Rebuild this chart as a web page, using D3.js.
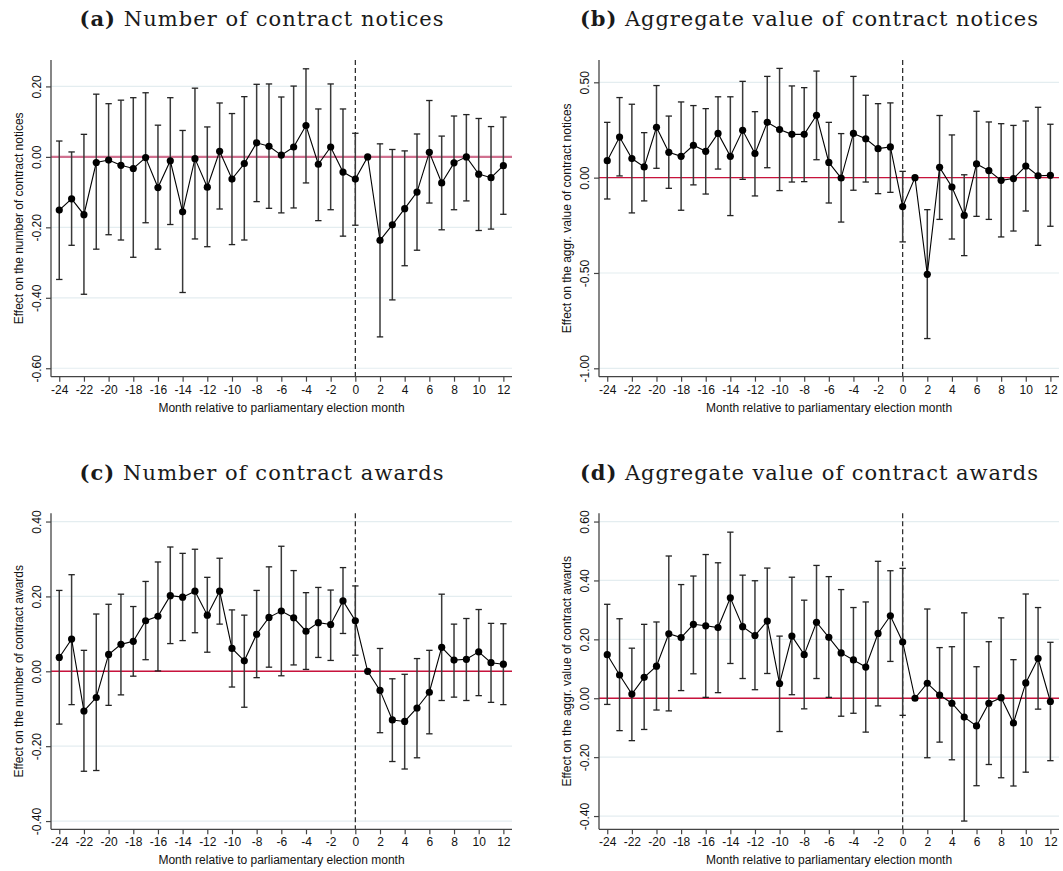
<!DOCTYPE html>
<html>
<head>
<meta charset="utf-8">
<script src="https://cdn.jsdelivr.net/npm/d3@7"></script>
<style>
  body { margin: 0; background: #fff; }
  svg { display: block; }
</style>
</head>
<body>
<script>
const width = 1063;
const height = 871;

// months relative to the election, every panel uses the same ones
const months = [-24, -23, -22, -21, -20, -19, -18, -17, -16, -15, -14, -13, -12, -11, -10, -9, -8, -7, -6, -5,
  -4, -3, -2, -1, 0, 1, 2, 3, 4, 5, 6, 7, 8, 9, 10, 11, 12];
const monthTicks = [-24, -22, -20, -18, -16, -14, -12, -10, -8, -6, -4, -2, 0, 2, 4, 6, 8, 10, 12];

// (a) number of contract notices
const noticesNum = [-0.151, -0.119, -0.164, -0.016, -0.009, -0.024, -0.033, -0.002, -0.087, -0.011, -0.156, -0.005, -0.086, 0.016, -0.063, -0.019, 0.040, 0.030, 0.005, 0.028,
  0.089, -0.021, 0.028, -0.043, -0.063, 0, -0.237, -0.193, -0.147, -0.100, 0.013, -0.074, -0.017, 0.000, -0.049, -0.059, -0.025];
const noticesNumHi = [0.045, 0.014, 0.064, 0.178, 0.151, 0.161, 0.168, 0.182, 0.090, 0.168, 0.075, 0.195, 0.085, 0.153, 0.123, 0.171, 0.206, 0.207, 0.170, 0.201,
  0.250, 0.136, 0.207, 0.136, 0.067, null, 0.037, 0.021, 0.017, 0.065, 0.160, 0.059, 0.116, 0.120, 0.109, 0.086, 0.113];
const noticesNumLo = [-0.348, -0.251, -0.390, -0.262, -0.221, -0.236, -0.285, -0.187, -0.262, -0.192, -0.385, -0.233, -0.255, -0.148, -0.249, -0.236, -0.127, -0.146, -0.159, -0.145,
  -0.074, -0.181, -0.150, -0.225, -0.194, null, -0.511, -0.406, -0.309, -0.265, -0.131, -0.207, -0.150, -0.125, -0.209, -0.205, -0.163];

// (b) aggregate value of contract notices
const noticesVal = [0.089, 0.213, 0.100, 0.056, 0.264, 0.133, 0.112, 0.170, 0.138, 0.232, 0.112, 0.248, 0.126, 0.290, 0.252, 0.227, 0.227, 0.327, 0.080, -0.002,
  0.232, 0.204, 0.152, 0.161, -0.152, 0, -0.507, 0.054, -0.049, -0.198, 0.072, 0.037, -0.014, -0.005, 0.061, 0.010, 0.012];
const noticesValHi = [0.290, 0.420, 0.385, 0.236, 0.483, 0.323, 0.397, 0.378, 0.362, 0.424, 0.424, 0.505, 0.346, 0.531, 0.573, 0.481, 0.472, 0.559, 0.290, 0.231,
  0.531, 0.432, 0.388, 0.392, 0.033, null, -0.168, 0.326, 0.224, 0.015, 0.348, 0.292, 0.283, 0.274, 0.297, 0.369, 0.280];
const noticesValLo = [-0.112, 0.009, -0.185, -0.122, 0.049, -0.056, -0.171, -0.038, -0.086, 0.045, -0.199, -0.009, -0.096, 0.052, -0.068, -0.023, -0.021, 0.094, -0.133, -0.233,
  -0.066, -0.023, -0.084, -0.077, -0.337, null, -0.844, -0.219, -0.322, -0.409, -0.203, -0.219, -0.311, -0.280, -0.175, -0.355, -0.255];

// (c) number of contract awards
const awardsNum = [0.037, 0.086, -0.106, -0.070, 0.045, 0.072, 0.080, 0.135, 0.147, 0.202, 0.198, 0.214, 0.150, 0.214, 0.061, 0.028, 0.099, 0.144, 0.161, 0.143,
  0.107, 0.130, 0.125, 0.188, 0.135, 0, -0.051, -0.130, -0.134, -0.098, -0.056, 0.064, 0.030, 0.032, 0.052, 0.023, 0.019];
const awardsNumHi = [0.216, 0.258, 0.056, 0.153, 0.179, 0.206, 0.173, 0.240, 0.292, 0.332, 0.315, 0.326, 0.251, 0.302, 0.164, 0.150, 0.216, 0.279, 0.334, 0.269,
  0.210, 0.224, 0.217, 0.277, 0.228, null, 0.061, -0.020, -0.008, 0.034, 0.056, 0.206, 0.126, 0.141, 0.165, 0.128, 0.127];
const awardsNumLo = [-0.141, -0.089, -0.267, -0.265, -0.091, -0.063, -0.013, 0.031, 0.001, 0.074, 0.082, 0.103, 0.051, 0.126, -0.042, -0.096, -0.017, 0.011, -0.012, 0.017,
  0.005, 0.037, 0.029, 0.101, 0.043, null, -0.164, -0.241, -0.261, -0.231, -0.167, -0.078, -0.069, -0.078, -0.065, -0.083, -0.089];

// (d) aggregate value of contract awards
const awardsVal = [0.148, 0.079, 0.014, 0.071, 0.109, 0.219, 0.206, 0.251, 0.246, 0.240, 0.341, 0.243, 0.213, 0.262, 0.050, 0.211, 0.148, 0.258, 0.207, 0.154,
  0.130, 0.106, 0.220, 0.280, 0.191, 0, 0.051, 0.011, -0.017, -0.064, -0.094, -0.017, 0.002, -0.084, 0.052, 0.135, -0.011];
const awardsValHi = [0.319, 0.270, 0.170, 0.251, 0.259, 0.483, 0.386, 0.415, 0.488, 0.460, 0.564, 0.418, 0.399, 0.442, 0.211, 0.411, 0.333, 0.451, 0.413, 0.369,
  0.308, 0.327, 0.465, 0.433, 0.441, null, 0.303, 0.172, 0.175, 0.290, 0.107, 0.192, 0.273, 0.131, 0.354, 0.308, 0.190];
const awardsValLo = [-0.021, -0.110, -0.144, -0.106, -0.040, -0.043, 0.026, 0.083, 0.003, 0.019, 0.118, 0.067, 0.029, 0.084, -0.113, 0.012, -0.036, 0.067, 0.003, -0.061,
  -0.051, -0.115, -0.026, 0.125, -0.058, null, -0.202, -0.149, -0.209, -0.417, -0.297, -0.225, -0.270, -0.298, -0.251, -0.037, -0.212];

const panels = [
  { tag: "(a)", title: "Number of contract notices", ylab: "Effect on the number of contract notices",
    est: noticesNum, hi: noticesNumHi, lo: noticesNumLo, ticks: [-0.6, -0.4, -0.2, 0, 0.2], ydom: [-0.624, 0.275],
    left: 51, right: 512, top: 60, bottom: 376.7, titleY: 26, titleW: 364, zero: { color: "#d0708f", w: 2.2 } },
  { tag: "(b)", title: "Aggregate value of contract notices", ylab: "Effect on the aggr. value of contract notices",
    est: noticesVal, hi: noticesValHi, lo: noticesValLo, ticks: [-1, -0.5, 0, 0.5], ydom: [-1.044, 0.617],
    left: 599, right: 1059, top: 60, bottom: 376.7, titleY: 26, titleW: 458, zero: { color: "#c8133c", w: 1.4 } },
  { tag: "(c)", title: "Number of contract awards", ylab: "Effect on the number of contract awards",
    est: awardsNum, hi: awardsNumHi, lo: awardsNumLo, ticks: [-0.4, -0.2, 0, 0.2, 0.4], ydom: [-0.422, 0.422],
    left: 51, right: 512, top: 513.3, bottom: 829.3, titleY: 480, titleW: 364, zero: { color: "#c8133c", w: 1.4 } },
  { tag: "(d)", title: "Aggregate value of contract awards", ylab: "Effect on the aggr. value of contract awards",
    est: awardsVal, hi: awardsValHi, lo: awardsValLo, ticks: [-0.4, -0.2, 0, 0.2, 0.4, 0.6], ydom: [-0.445, 0.628],
    left: 599, right: 1059, top: 513.3, bottom: 829.3, titleY: 480, titleW: 458, zero: { color: "#c8133c", w: 1.4 } }
];

const svg = d3.select("body").append("svg")
  .attr("width", width)
  .attr("height", height);

svg.append("rect").attr("width", width).attr("height", height).attr("fill", "#fff");

const sans = "'Liberation Sans', Arial, sans-serif";
const serif = "'DejaVu Serif', 'Liberation Serif', serif";
// plain hyphen for negatives, like the original
const fmt = d => d3.format(".2f")(d).replace("\u2212", "-");
const fmtMonth = d => String(d);

function drawPanel(p) {
  const x = d3.scaleLinear().domain([-24.67, 12.7]).range([p.left, p.right]);
  const y = d3.scaleLinear().domain(p.ydom).range([p.bottom, p.top]);
  const g = svg.append("g");

  // title
  const t = g.append("text")
    .attr("x", (p.left + p.right) / 2 - 20 - p.titleW / 2)
    .attr("y", p.titleY)
    .attr("textLength", p.titleW)
    .attr("lengthAdjust", "spacing")
    .attr("font-family", serif)
    .attr("font-size", 21)
    .attr("fill", "#1a1a1a");
  t.append("tspan").attr("font-weight", "bold").text(p.tag);
  t.append("tspan").attr("font-weight", 300).text(" " + p.title);

  // gridlines
  g.selectAll(".grid")
    .data(p.ticks)
    .join("line")
    .attr("x1", p.left).attr("x2", p.right)
    .attr("y1", d => y(d)).attr("y2", d => y(d))
    .attr("stroke", "#e4edf0")
    .attr("stroke-width", 1.2);

  // zero reference line
  g.append("line")
    .attr("x1", p.left).attr("x2", p.right)
    .attr("y1", y(0)).attr("y2", y(0))
    .attr("stroke", p.zero.color)
    .attr("stroke-width", p.zero.w);

  // election month
  g.append("line")
    .attr("x1", x(0)).attr("x2", x(0))
    .attr("y1", p.top).attr("y2", p.bottom)
    .attr("stroke", "#222")
    .attr("stroke-width", 1.2)
    .attr("stroke-dasharray", "5,3");

  // y axis
  const yAxis = d3.axisLeft(y).tickValues(p.ticks).tickFormat(fmt).tickSize(5).tickPadding(0);
  const ya = g.append("g").attr("transform", `translate(${p.left},0)`).call(yAxis);
  ya.select(".domain").attr("d", `M0,${p.top}V${p.bottom}`).attr("stroke", "#444").attr("stroke-width", 1.3);
  ya.selectAll(".tick line").attr("stroke", "#444").attr("stroke-width", 1.2);
  ya.selectAll(".tick text")
    .attr("x", null).attr("dy", null)
    .attr("transform", "translate(-10,0) rotate(-90)")
    .attr("text-anchor", "middle")
    .attr("font-family", sans)
    .attr("font-size", 12)
    .attr("fill", "#111");

  // x axis
  const xAxis = d3.axisBottom(x).tickValues(monthTicks).tickFormat(fmtMonth).tickSize(5).tickPadding(0);
  const xa = g.append("g").attr("transform", `translate(0,${p.bottom})`).call(xAxis);
  xa.select(".domain").attr("d", `M${p.left},0H${p.right}`).attr("stroke", "#444").attr("stroke-width", 1.3);
  xa.selectAll(".tick line").attr("stroke", "#444").attr("stroke-width", 1.2);
  xa.selectAll(".tick text")
    .attr("y", 17).attr("dy", null)
    .attr("font-family", sans)
    .attr("font-size", 12)
    .attr("fill", "#111");

  // axis titles
  g.append("text")
    .attr("transform", `translate(${p.left - 28},${(p.top + p.bottom) / 2}) rotate(-90)`)
    .attr("text-anchor", "middle")
    .attr("font-family", sans)
    .attr("font-size", 12)
    .attr("fill", "#111")
    .text(p.ylab);

  g.append("text")
    .attr("x", (p.left + p.right) / 2)
    .attr("y", p.bottom + 35)
    .attr("text-anchor", "middle")
    .attr("font-family", sans)
    .attr("font-size", 12)
    .attr("fill", "#111")
    .text("Month relative to parliamentary election month");

  const rows = months.map((m, i) => ({ m, est: p.est[i], hi: p.hi[i], lo: p.lo[i] }));
  const withCI = rows.filter(d => d.hi !== null);

  // confidence intervals with caps
  g.selectAll(".ci")
    .data(withCI)
    .join("line")
    .attr("x1", d => x(d.m)).attr("x2", d => x(d.m))
    .attr("y1", d => y(d.hi)).attr("y2", d => y(d.lo))
    .attr("stroke", "#3a3a3a")
    .attr("stroke-width", 1.5);
  g.selectAll(".capHi")
    .data(withCI)
    .join("line")
    .attr("x1", d => x(d.m) - 3.2).attr("x2", d => x(d.m) + 3.2)
    .attr("y1", d => y(d.hi)).attr("y2", d => y(d.hi))
    .attr("stroke", "#222").attr("stroke-width", 1.3);
  g.selectAll(".capLo")
    .data(withCI)
    .join("line")
    .attr("x1", d => x(d.m) - 3.2).attr("x2", d => x(d.m) + 3.2)
    .attr("y1", d => y(d.lo)).attr("y2", d => y(d.lo))
    .attr("stroke", "#222").attr("stroke-width", 1.3);

  // point estimates
  g.append("path")
    .datum(rows)
    .attr("fill", "none")
    .attr("stroke", "#000")
    .attr("stroke-width", 1.1)
    .attr("d", d3.line().x(d => x(d.m)).y(d => y(d.est)));

  g.selectAll(".pt")
    .data(rows)
    .join("circle")
    .attr("cx", d => x(d.m))
    .attr("cy", d => y(d.est))
    .attr("r", 3.6)
    .attr("fill", "#000");
}

panels.forEach(drawPanel);
</script>
</body>
</html>
